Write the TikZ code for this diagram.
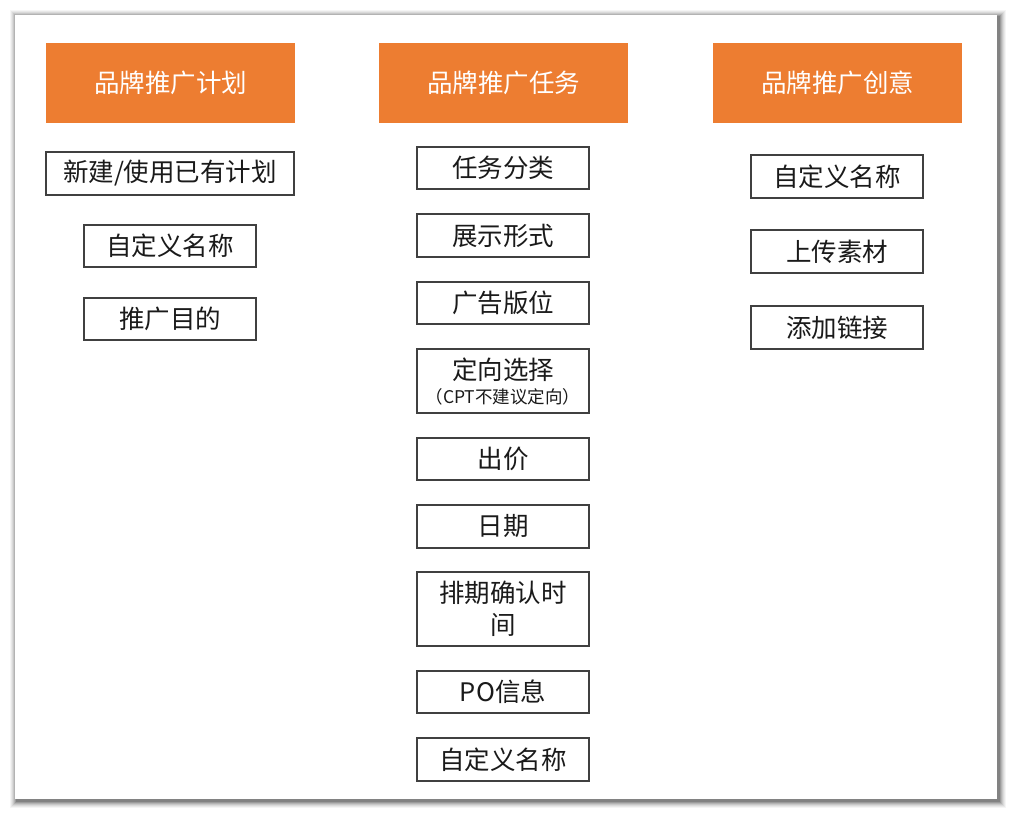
\documentclass[tikz,border=0pt]{standalone}
\usepackage{fontspec}
\newfontfamily\cjk{Noto Sans CJK SC}
\definecolor{hdrorange}{HTML}{ED7D31}
\definecolor{boxline}{HTML}{404040}
\definecolor{txtdark}{HTML}{1A1A1A}
\begin{document}
\begin{tikzpicture}[x=1pt,y=-1pt,
  hdr/.style={fill=hdrorange, draw=none, text=white, inner sep=0pt,
    font=\cjk\fontsize{25.5}{30}\selectfont},
  itembox/.style={draw=boxline, line width=1.3pt, fill=white, text=txtdark, inner sep=0pt,
    align=center, font=\cjk\fontsize{25.5}{32}\selectfont},
  smalltxt/.style={font=\cjk\fontsize{17.5}{20}\selectfont}
]
\useasboundingbox (0,0) rectangle (1012,814);
\fill[white] (0,0) rectangle (1012,814);
% card shadow
\foreach \d/\o in {7/0.04,6/0.05,5/0.06,4/0.08,3/0.10,2/0.13,1/0.16}{
  \fill[black, opacity=\o] (15-\d+2,15-\d+2) rectangle (997+\d+2,799+\d+2);
}
\fill[white] (15,15) rectangle (997,799);
% headers
\node[hdr, minimum width=249pt, minimum height=80pt] (h1) at (170.5,83) {品牌推广计划};
\node[hdr, minimum width=249pt, minimum height=80pt] (h2) at (503.5,83) {品牌推广任务};
\node[hdr, minimum width=249pt, minimum height=80pt] (h3) at (837.5,83) {品牌推广创意};
% column 1
\node[itembox, minimum width=248pt, minimum height=43pt] (a1) at (170,173.5) {新建/使用已有计划};
\node[itembox, minimum width=172pt, minimum height=42pt] (a2) at (170,246) {自定义名称};
\node[itembox, minimum width=172pt, minimum height=42pt] (a3) at (170,319) {推广目的};
% column 2
\node[itembox, minimum width=172pt, minimum height=42pt] (b1) at (503,168) {任务分类};
\node[itembox, minimum width=172pt, minimum height=43pt] (b2) at (503,235.5) {展示形式};
\node[itembox, minimum width=172pt, minimum height=42pt] (b3) at (503,303) {广告版位};
\node[itembox, minimum width=172pt, minimum height=64pt] (b4) at (503,381) {};
\node[font=\cjk\fontsize{25.5}{30}\selectfont, text=txtdark, inner sep=0pt] (b4t) at (503,370) {定向选择};
\node[smalltxt, text=txtdark, inner sep=0pt] (b4s) at (503,397) {（CPT不建议定向）};
\node[itembox, minimum width=172pt, minimum height=42pt] (b5) at (503,459) {出价};
\node[itembox, minimum width=172pt, minimum height=43pt] (b6) at (503,526.5) {日期};
\node[itembox, minimum width=172pt, minimum height=74pt] (b7) at (503,609) {排期确认时\\间};
\node[itembox, minimum width=172pt, minimum height=42pt] (b8) at (503,692) {PO信息};
\node[itembox, minimum width=172pt, minimum height=43pt] (b9) at (503,759.5) {自定义名称};
% column 3
\node[itembox, minimum width=172pt, minimum height=43pt] (c1) at (837,176.5) {自定义名称};
\node[itembox, minimum width=172pt, minimum height=43pt] (c2) at (837,251.5) {上传素材};
\node[itembox, minimum width=172pt, minimum height=43pt] (c3) at (837,327.5) {添加链接};
\end{tikzpicture}
\end{document}
